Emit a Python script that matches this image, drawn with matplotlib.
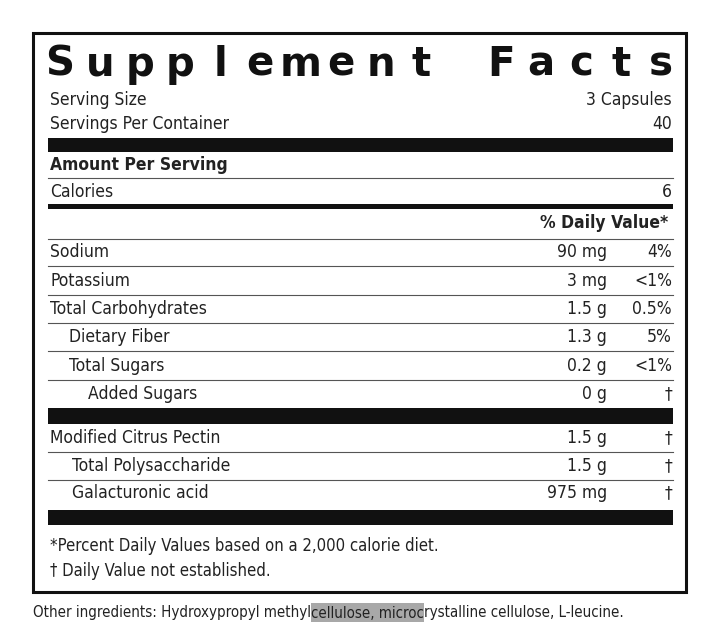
import matplotlib
matplotlib.use("Agg")
import matplotlib.pyplot as plt
from matplotlib.patches import Rectangle

title = "Supplement Facts"
serving = [("Serving Size", "3 Capsules"), ("Servings Per Container", "40")]
calories = ("Calories", "6")
nutrients = ["Sodium", "Potassium", "Total Carbohydrates", "Dietary Fiber", "Total Sugars", "Added Sugars"]
nutrient_indent = [0, 0, 0, 1, 1, 2]
nutrient_amounts = ["90 mg", "3 mg", "1.5 g", "1.3 g", "0.2 g", "0 g"]
nutrient_dv = ["4%", "<1%", "0.5%", "5%", "<1%", "†"]
others = ["Modified Citrus Pectin", "Total Polysaccharide", "Galacturonic acid"]
other_indent = [0, 1, 1]
other_amounts = ["1.5 g", "1.5 g", "975 mg"]
other_dv = ["†", "†", "†"]
footnotes = ["*Percent Daily Values based on a 2,000 calorie diet.", "† Daily Value not established."]
ingredients_pre = "Other ingredients: Hydroxypropyl methyl"
ingredients_hl = "cellulose, microc"
ingredients_post = "rystalline cellulose, L-leucine."

FONT = dict(family="DejaVu Sans", fontstretch="condensed", fontsize=12.5, color="#222")

fig = plt.figure(figsize=(7.16, 6.24), dpi=100)
ax = fig.add_axes([0, 0, 1, 1])
ax.set_xlim(0, 716); ax.set_ylim(624, 0); ax.axis("off")

ax.add_patch(Rectangle((33, 33), 653, 559, fill=False, lw=2.2, ec="#111"))
L, R, AMT = 48, 673, 607

xs = 60; xe = 661
n = len(title)
for i, ch in enumerate(title):
    x = xs + (xe - xs) * i / (n - 1)
    ax.text(x, 65, ch, ha="center", va="center", fontsize=29, fontweight="bold", family="DejaVu Sans", color="#111")

def thin(y): ax.plot([L, R], [y, y], color="#555", lw=0.8)
def bar(y0, y1): ax.add_patch(Rectangle((L, y0), R - L, y1 - y0, color="#111", lw=0))

for (lab, val), y in zip(serving, [100, 124]):
    ax.text(L + 2, y, lab, va="center", **FONT)
    ax.text(R - 1, y, val, va="center", ha="right", **FONT)
bar(138, 152)
ax.text(L + 2, 165, "Amount Per Serving", va="center", fontweight="bold", **FONT)
thin(178)
ax.text(L + 2, 192, calories[0], va="center", **FONT)
ax.text(R - 1, 192, calories[1], va="center", ha="right", **FONT)
bar(204, 209)
ax.text(668, 223, "% Daily Value*", va="center", ha="right", fontweight="bold", **FONT)
thin(239)
ys = [252, 281, 309, 337, 366, 394]
for i, (lab, ind, a, d) in enumerate(zip(nutrients, nutrient_indent, nutrient_amounts, nutrient_dv)):
    y = ys[i]
    ax.text(L + 2 + ind * 19, y, lab, va="center", **FONT)
    ax.text(AMT, y, a, va="center", ha="right", **FONT)
    ax.text(R - 1, y, d, va="center", ha="right", **FONT)
    if i < len(ys) - 1:
        thin(y + 14)
bar(408, 424)
ys2 = [438, 466, 493]
for i, (lab, ind, a, d) in enumerate(zip(others, other_indent, other_amounts, other_dv)):
    y = ys2[i]
    ax.text(L + 2 + ind * 22, y, lab, va="center", **FONT)
    ax.text(AMT, y, a, va="center", ha="right", **FONT)
    ax.text(R - 1, y, d, va="center", ha="right", **FONT)
    if i < len(ys2) - 1:
        thin(y + 14)
bar(510, 525)
FF = dict(FONT); FF["fontsize"] = 12
for t, y in zip(footnotes, [546, 571]):
    ax.text(L + 2, y, t, va="center", **FF)

fig.canvas.draw()
rend = fig.canvas.get_renderer()
inv = ax.transData.inverted()
IF = dict(FONT); IF["fontsize"] = 10.8
t1 = ax.text(33, 613, ingredients_pre, va="center", **IF)
bb = t1.get_window_extent(rend); x1 = inv.transform((bb.x1, 0))[0]
t2 = ax.text(x1, 613, ingredients_hl, va="center", **IF)
bb2 = t2.get_window_extent(rend); x2 = inv.transform((bb2.x1, 0))[0]
ax.add_patch(Rectangle((x1, 603), x2 - x1, 19, color="#a8a8a8", lw=0, zorder=0))
ax.text(x2, 613, ingredients_post, va="center", **IF)

fig.savefig("out.png", dpi=100)
